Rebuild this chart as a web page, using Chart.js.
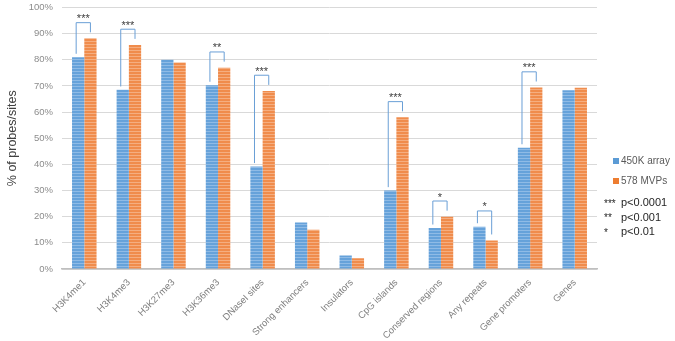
<!DOCTYPE html>
<html>
<head>
<meta charset="utf-8">
<script src="https://cdn.jsdelivr.net/npm/chart.js@4.4.1/dist/chart.umd.min.js"></script>
<style>
    html, body { margin: 0; padding: 0; background: #ffffff; }
    #wrap { width: 675px; height: 341px; position: relative; }
</style>
</head>
<body>
<div id="wrap"><canvas id="chart"></canvas></div>
<script>
// data
const categories = ['H3K4me1', 'H3K4me3', 'H3K27me3', 'H3K36me3', 'DNaseI sites', 'Strong enhancers',
    'Insulators', 'CpG islands', 'Conserved regions', 'Any repeats', 'Gene promoters', 'Genes'];
const arrayValues = [81, 68.5, 80, 70.3, 39.2, 17.8, 5.2, 30, 15.7, 16.2, 46.4, 68.4];
const mvpValues = [88.2, 85.7, 79, 77, 68.1, 15, 4.1, 58, 20, 10.9, 69.4, 69.3];
const seriesNames = ['450K array', '578 MVPs'];
const sigStars = ['***', '***', '', '**', '***', '', '', '***', '*', '*', '***', ''];
const sigKeys = ['***', '**', '*'];
const sigNotes = ['p<0.0001', 'p<0.001', 'p<0.01'];

const blue = '#5b9bd5';
const orange = '#ed7d31';
const font = "'Liberation Sans', Arial, sans-serif";

// faint horizontal stripes like the original fill
function stripes(base, light) {
    const c = document.createElement('canvas');
    c.width = 4; c.height = 3;
    const g = c.getContext('2d');
    g.fillStyle = base; g.fillRect(0, 0, 4, 3);
    g.fillStyle = light; g.fillRect(0, 2, 4, 1);
    return g.createPattern(c, 'repeat');
}

const ctx = document.getElementById('chart').getContext('2d');
new Chart(ctx, {
    type: 'bar',
    data: {
        labels: categories,
        datasets: [
            { label: seriesNames[0], data: arrayValues, backgroundColor: stripes('#66a2da', '#8fbbe6'), legendColor: blue },
            { label: seriesNames[1], data: mvpValues, backgroundColor: stripes('#f08c4c', '#f5ae80'), legendColor: orange }
        ]
    },
    options: {
        responsive: true,
        maintainAspectRatio: false,
        animation: false,
        layout: { padding: { top: 7.5, right: 78, left: 0, bottom: 0 } },
        datasets: { bar: { barPercentage: 1, categoryPercentage: 0.55 } },
        scales: {
            x: {
                grid: { display: false, drawTicks: false },
                border: { display: true, color: '#bfbfbf', width: 1.5 },
                ticks: {
                    autoSkip: false, minRotation: 45, maxRotation: 45, padding: 8,
                    color: '#7f7f7f', font: { family: font, size: 9.5 }
                },
                afterFit: (scale) => { scale.height = 72; }
            },
            y: {
                min: 0, max: 100,
                grid: { color: '#d9d9d9', drawTicks: false },
                border: { display: false },
                ticks: {
                    stepSize: 10, padding: 9, color: '#8c8c8c',
                    font: { family: font, size: 9.5 },
                    callback: (v) => v + '%'
                },
                title: {
                    display: true, text: '% of probes/sites', color: '#404040',
                    font: { family: font, size: 12.5 }, padding: { top: 5, bottom: 4 }
                },
                afterFit: (scale) => { scale.width = 62; scale.paddingTop = 0; scale.paddingBottom = 0; }
            }
        },
        plugins: {
            legend: { display: false },
            tooltip: { enabled: false }
        }
    },
    plugins: [
        {
            // significance brackets above each pair of bars
            id: 'brackets',
            afterDatasetsDraw: (chart) => {
                const c = chart.ctx;
                const y = chart.scales.y;
                const a = chart.getDatasetMeta(0).data;
                const b = chart.getDatasetMeta(1).data;
                c.save();
                sigStars.forEach((stars, i) => {
                    if (!stars) return;
                    const x1 = a[i].x - 2;
                    const x2 = b[i].x;
                    const top = y.getPixelForValue(Math.max(arrayValues[i], mvpValues[i]) + 6);
                    c.beginPath();
                    c.moveTo(x1, y.getPixelForValue(arrayValues[i] + 1.3));
                    c.lineTo(x1, top);
                    c.lineTo(x2, top);
                    c.lineTo(x2, y.getPixelForValue(mvpValues[i] + 2.3));
                    c.strokeStyle = '#6a9fd6';
                    c.lineWidth = 1;
                    c.stroke();
                    c.fillStyle = '#404040';
                    c.font = `11px ${font}`;
                    c.textAlign = 'center';
                    c.textBaseline = 'bottom';
                    c.fillText(stars, (x1 + x2) / 2, top + 2);
                });
                c.restore();
            }
        },
        {
            // legend and p-value key on the right
            id: 'sideLegend',
            afterDraw: (chart) => {
                const c = chart.ctx;
                c.save();
                c.textBaseline = 'middle';
                c.textAlign = 'left';
                chart.data.datasets.forEach((ds, i) => {
                    const yy = 161 + i * 20;
                    c.fillStyle = ds.legendColor;
                    c.fillRect(613, yy - 3, 6, 6);
                    c.fillStyle = '#595959';
                    c.font = `10px ${font}`;
                    c.fillText(ds.label, 621, yy);
                });
                sigKeys.forEach((k, i) => {
                    const yy = 203 + i * 14.5;
                    c.fillStyle = '#262626';
                    c.font = `10px ${font}`;
                    c.fillText(k, 604, yy + 1);
                    c.font = `11px ${font}`;
                    c.fillText(sigNotes[i], 621, yy);
                });
                c.restore();
            }
        }
    ]
});
</script>
</body>
</html>
